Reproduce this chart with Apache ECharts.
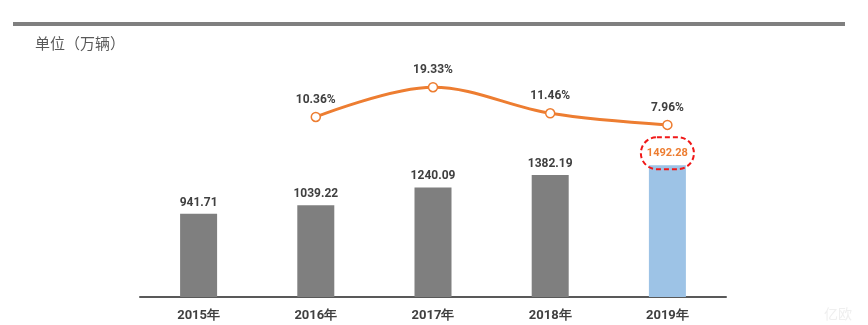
<!DOCTYPE html>
<html>
<head>
<meta charset="utf-8">
<script src="https://cdn.jsdelivr.net/npm/echarts@6/dist/echarts.min.js"></script>
<style>
html,body{margin:0;padding:0;background:#fff;}
#c{width:868px;height:325px;}
</style>
</head>
<body>
<div id="c"></div>
<script>
var categories = ['2015年', '2016年', '2017年', '2018年', '2019年'];
var salesValues = [941.71, 1039.22, 1240.09, 1382.19, 1492.28];
var growthValues = [null, 10.36, 19.33, 11.46, 7.96];
var unitLabel = '单位（万辆）';

var numFont = 'Roboto, "DejaVu Sans Condensed", sans-serif';
var chart = echarts.init(document.getElementById('c'), null, {renderer: 'canvas'});

var barData = salesValues.map(function (v, i) {
  if (i === salesValues.length - 1) {
    return {
      value: v,
      itemStyle: {color: '#9DC3E6'},
      label: {
        color: '#ED7D31',
        fontSize: 11,
        distance: -4,
        borderColor: '#F01818',
        borderWidth: 2,
        borderType: [5, 3],
        borderRadius: 17,
        padding: [11, 6, 10, 6]
      }
    };
  }
  return v;
});

chart.setOption({
  animation: false,
  backgroundColor: '#fff',
  title: {
    text: unitLabel,
    left: 30,
    top: 31,
    textStyle: {fontSize: 15, fontWeight: 'normal', color: '#595959', fontFamily: '"Noto Sans CJK SC", sans-serif'}
  },
  graphic: [
    {type: 'rect', left: 13, top: 22, shape: {width: 832, height: 4}, style: {fill: '#7F7F7F'}},
    {type: 'text', right: 16, bottom: 4, style: {text: '亿欧', fill: '#efefef', fontSize: 14, fontFamily: '"Noto Sans CJK SC", sans-serif'}}
  ],
  grid: {left: 140, right: 142, top: 32, bottom: 28, containLabel: false},
  xAxis: {
    type: 'category',
    data: categories,
    axisLine: {lineStyle: {color: '#595959', width: 2}},
    axisTick: {show: false},
    axisLabel: {color: '#404040', fontSize: 13, fontWeight: 'bold', fontFamily: numFont, margin: 12}
  },
  yAxis: [
    {type: 'value', min: 0, max: 3000, show: false, splitLine: {show: false}},
    {type: 'value', min: -44, max: 36, show: false, splitLine: {show: false}}
  ],
  series: [
    {
      type: 'bar',
      data: barData,
      barWidth: 37,
      yAxisIndex: 0,
      itemStyle: {color: '#7F7F7F'},
      label: {
        show: true,
        position: 'top',
        distance: 5,
        color: '#404040',
        fontSize: 12,
        fontWeight: 'bold',
        fontFamily: numFont
      }
    },
    {
      type: 'line',
      data: growthValues,
      yAxisIndex: 1,
      smooth: 0.35,
      symbol: 'circle',
      symbolSize: 9,
      lineStyle: {color: '#ED7D31', width: 3},
      itemStyle: {color: '#fff', borderColor: '#ED7D31', borderWidth: 1.5},
      label: {
        show: true,
        position: 'top',
        distance: 6,
        color: '#404040',
        fontSize: 12,
        fontWeight: 'bold',
        fontFamily: numFont,
        formatter: function (p) { return p.value.toFixed(2) + '%'; }
      }
    }
  ]
});
</script>
</body>
</html>
